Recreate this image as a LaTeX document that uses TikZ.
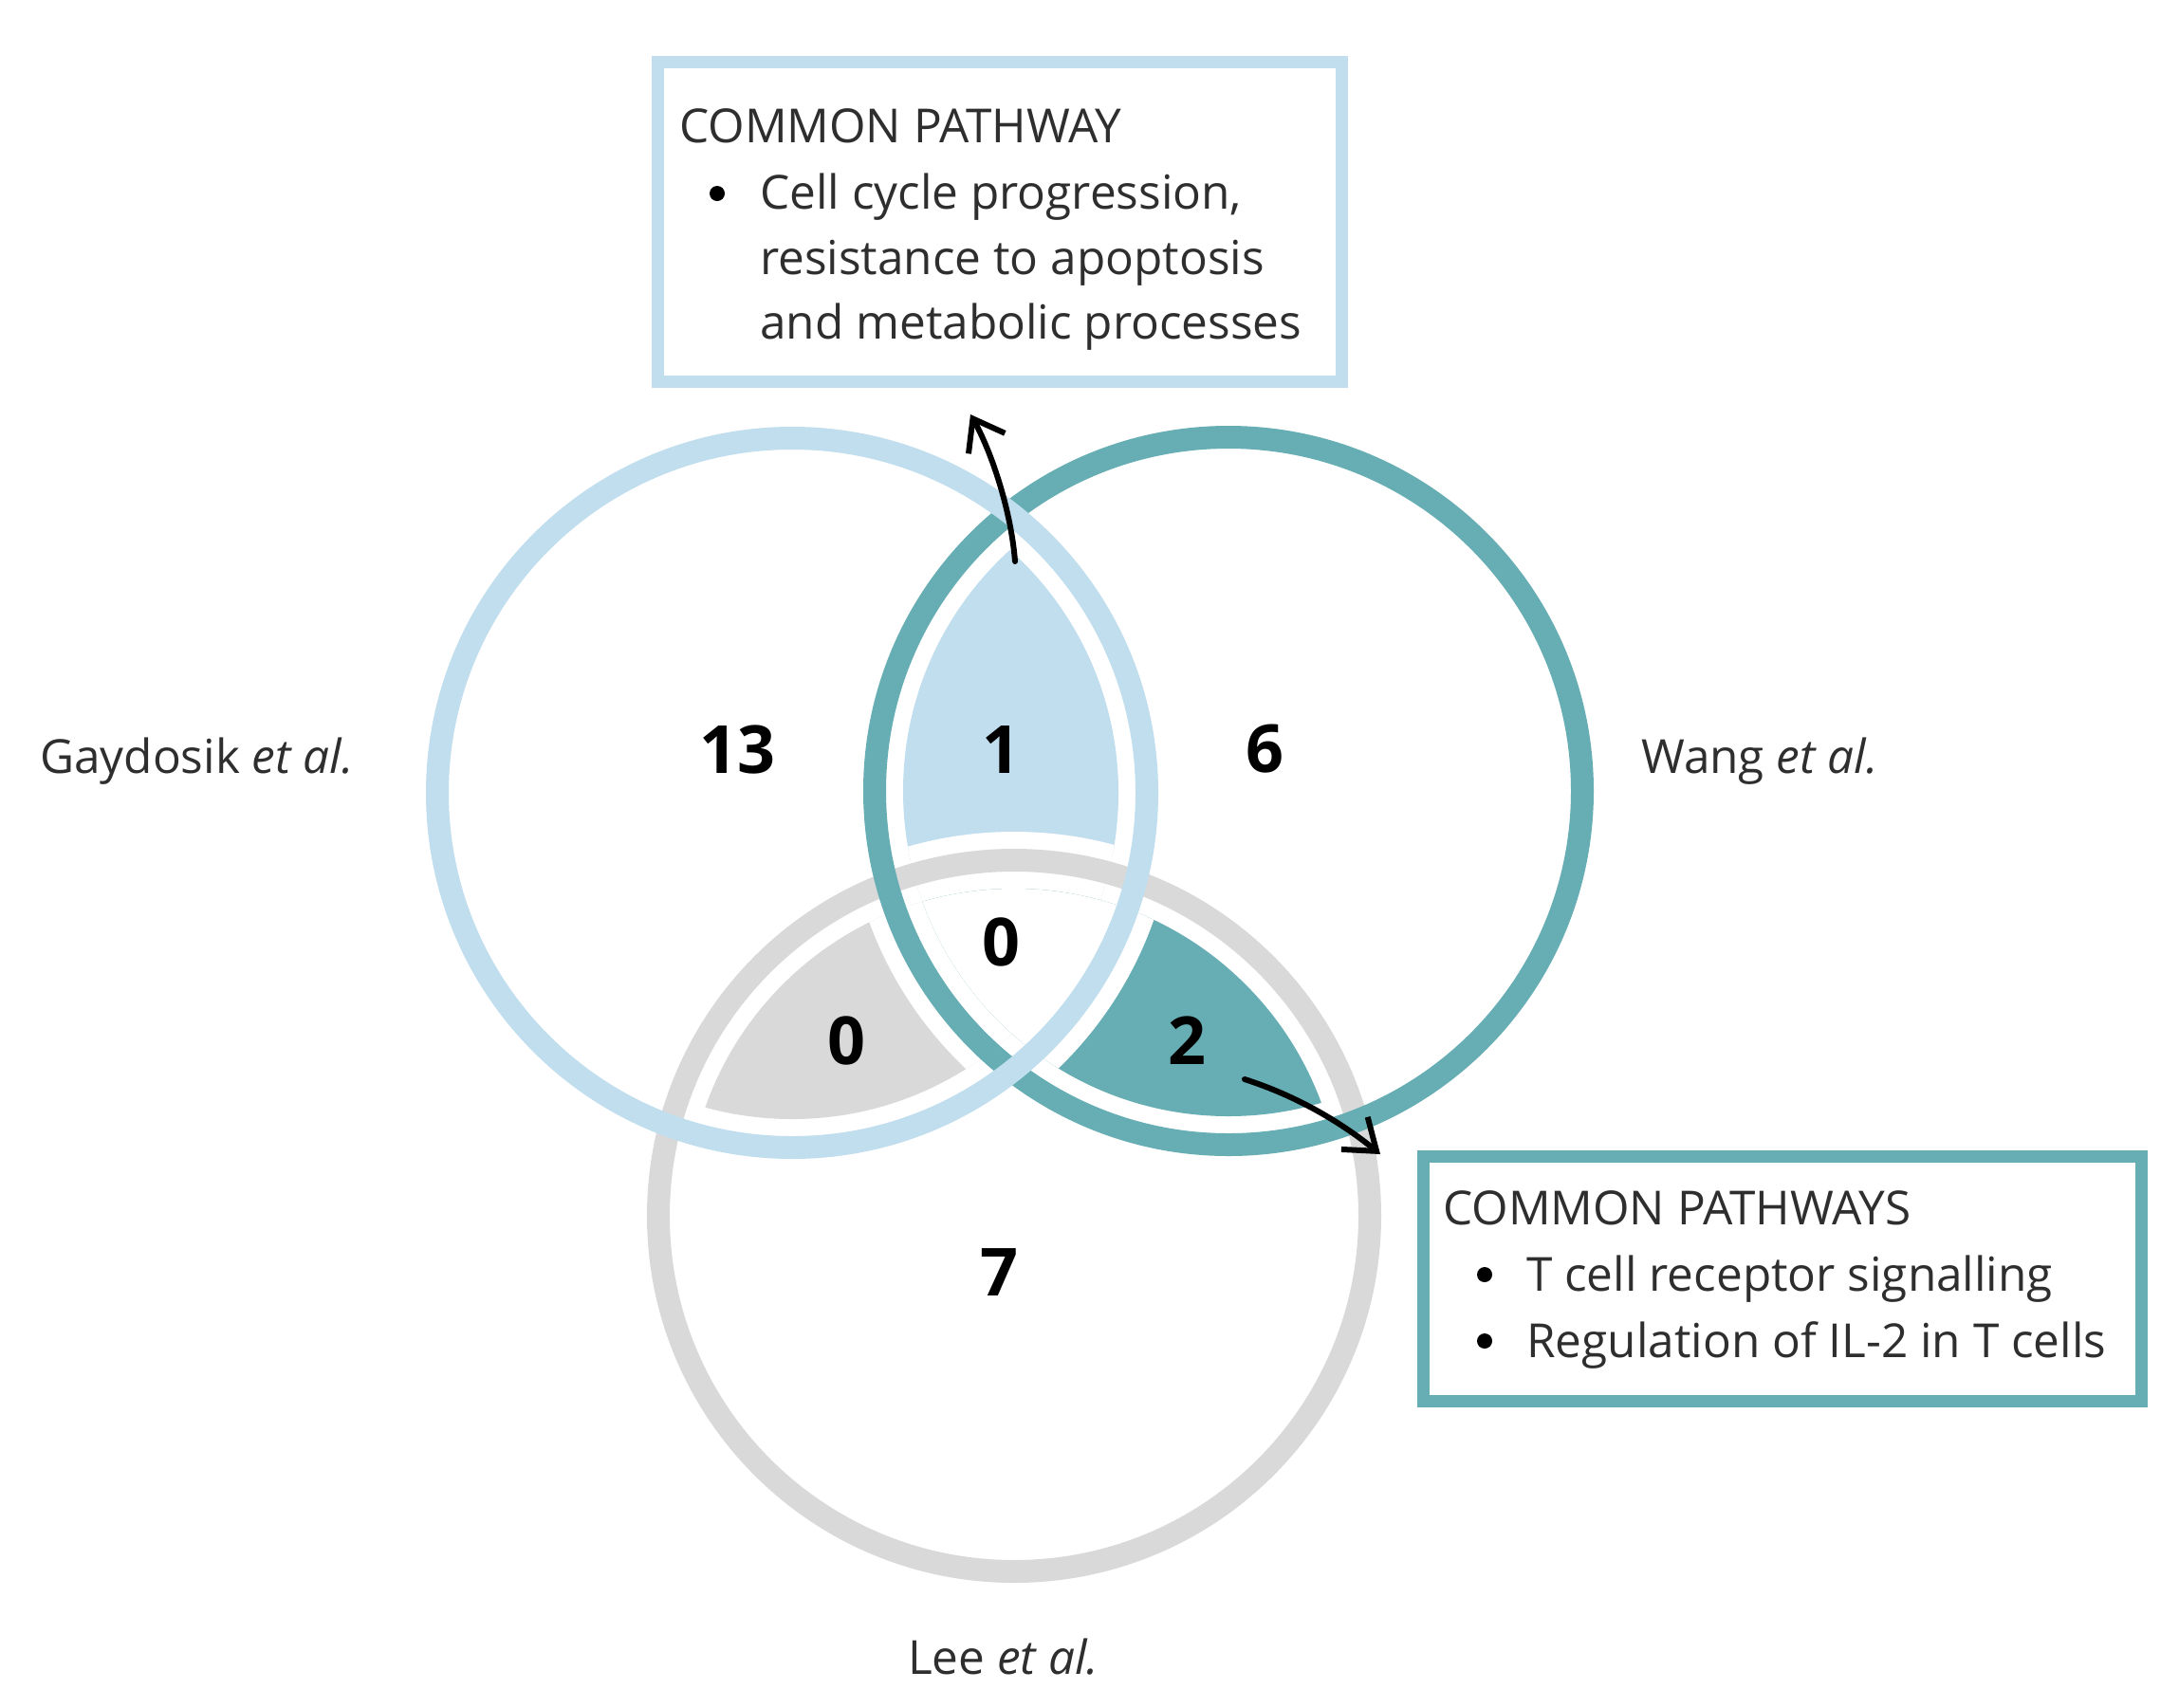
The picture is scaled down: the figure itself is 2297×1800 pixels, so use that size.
\documentclass[tikz,border=0pt]{standalone}
\usepackage{fontspec}
\setmainfont{Open Sans}
\usetikzlibrary{arrows.meta}
\definecolor{lblue}{HTML}{C0DEEE}
\definecolor{vteal}{HTML}{66AEB4}
\definecolor{lgray}{HTML}{D9D9D9}
\definecolor{txt}{HTML}{2E2E2E}
\begin{document}
\begin{tikzpicture}[x=1pt,y=-1pt,
  lbl/.style={anchor=base west, inner sep=0pt, text=txt, font=\fontsize{49.5pt}{58pt}\selectfont},
  num/.style={inner sep=0pt, text=black, font=\fontsize{70pt}{70pt}\selectfont\bfseries},
  boxframe/.style={draw=#1, line width=13pt, fill=white, inner sep=0pt},
  bulletdot/.style={circle, fill=black, inner sep=0pt, minimum size=16pt},
  arr/.style={line width=6pt, line cap=round, -{Straight Barb[length=30pt,width=44pt,line width=6pt]}},
  ring/.style={line width=24pt}]
\useasboundingbox (0,0) rectangle (2297,1800);
\fill[white] (0,0) rectangle (2297,1800);

\coordinate (G) at (835,836);
\coordinate (W) at (1295,834);
\coordinate (L) at (1069,1282);

% filled intersection regions
\begin{scope}
  \clip (G) circle[radius=344pt];
  \clip (W) circle[radius=343pt];
  \fill[lblue] (G) circle[radius=380pt];
  \fill[white] (L) circle[radius=405pt];
\end{scope}
\begin{scope}
  \clip (G) circle[radius=344pt];
  \clip (L) circle[radius=345pt];
  \fill[lgray] (L) circle[radius=380pt];
  \fill[white] (W) circle[radius=403pt];
\end{scope}
\begin{scope}
  \clip (W) circle[radius=343pt];
  \clip (L) circle[radius=345pt];
  \fill[vteal] (L) circle[radius=380pt];
  \fill[white] (G) circle[radius=404pt];
\end{scope}

% rings
\draw[ring, lgray] (L) circle[radius=375pt];
\draw[ring, vteal] (W) circle[radius=373pt];
\draw[ring, lblue] (G) circle[radius=374pt];

% numbers
\node[num] (n13) at (777,790) {13};
\node[num] (n1) at (1055,790) {1};
\node[num] (n6) at (1333,790) {6};
\node[num] (n0c) at (1055,993) {0};
\node[num] (n0l) at (892,1097) {0};
\node[num] (n2) at (1251,1097) {2};
\node[num] (n7) at (1053,1342) {7};

% set labels
\node[lbl] (lg) at (42,815) {Gaydosik \textit{et al.}};
\node[lbl] (lw) at (1730,815) {Wang \textit{et al.}};
\node[lbl] (ll) at (957,1765) {Lee \textit{et al.}};

% top box
\node[boxframe=lblue, minimum width=721pt, minimum height=337pt] (topbox) at (1053.5,233.5) {};
\node[lbl] (t0) at (716,150) {COMMON PATHWAY};
\node[bulletdot] (tb) at (756,204) {};
\node[lbl] (t1) at (801,220) {Cell cycle progression,};
\node[lbl] (t2) at (801,289) {resistance to apoptosis};
\node[lbl] (t3) at (801,357) {and metabolic processes};

% bottom box
\node[boxframe=vteal, minimum width=757pt, minimum height=258pt] (botbox) at (1878.5,1348) {};
\node[lbl] (b0) at (1521,1291) {COMMON PATHWAYS};
\node[bulletdot] (bb1) at (1565,1344) {};
\node[lbl] (b1) at (1609,1361) {T cell receptor signalling};
\node[bulletdot] (bb2) at (1565,1414) {};
\node[lbl] (b2) at (1609,1431) {Regulation of IL-2 in T cells};

% arrows
\coordinate (a1s) at (1070,592);
\coordinate (a1e) at (1023,437);
\draw[arr] (a1s) .. controls (1066,540) and (1046,478) .. (a1e);
\coordinate (a2s) at (1312,1138);
\coordinate (a2e) at (1455,1217);
\draw[arr] (a2s) .. controls (1365,1155) and (1412,1182) .. (a2e);
\end{tikzpicture}
\end{document}
